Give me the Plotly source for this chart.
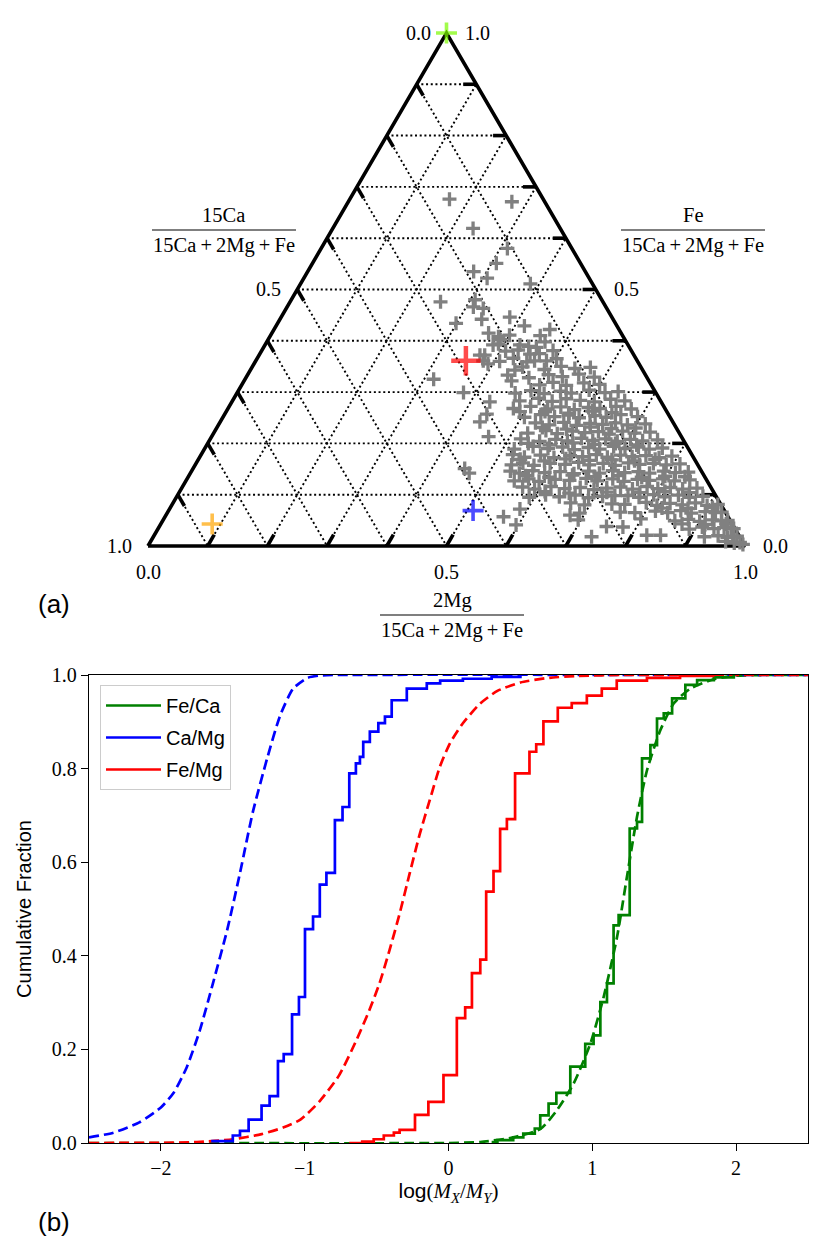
import math

import plotly.graph_objects as go

W, H = 831, 1254
R3 = math.sqrt(3) / 2
SERIF = "Liberation Serif"
SANS = "Liberation Sans"

# (a) sample compositions: 2Mg and Fe fractions of 15Ca+2Mg+Fe (15Ca is the remainder)
MG_FRAC = [
    0.167, 0.274, 0.235, 0.312, 0.308, 0.278, 0.307, 0.385, 0.252, 0.308, 0.312, 0.330,
    0.338, 0.383, 0.299, 0.416, 0.462, 0.452, 0.363, 0.383, 0.400, 0.382, 0.443,
    0.378, 0.390, 0.370, 0.392, 0.381, 0.429, 0.453, 0.457, 0.487, 0.455, 0.316, 0.379,
    0.432, 0.439, 0.435, 0.464, 0.448, 0.466, 0.478, 0.492, 0.455, 0.467, 0.567, 0.596,
    0.587, 0.734, 0.749, 0.677, 0.695, 0.777, 0.825,
    0.409, 0.468, 0.488,
    0.409, 0.429, 0.467, 0.502,
    0.453, 0.492, 0.517, 0.542, 0.567,
    0.436, 0.474, 0.504, 0.529, 0.554, 0.583,
    0.499, 0.519, 0.544, 0.571, 0.599,
    0.490, 0.515, 0.540, 0.560, 0.587, 0.616, 0.637,
    0.481, 0.511, 0.536, 0.557, 0.582, 0.607, 0.632, 0.657,
    0.505, 0.536, 0.556, 0.581, 0.603, 0.623, 0.648, 0.676,
    0.505, 0.530, 0.555, 0.577, 0.597, 0.622, 0.642, 0.664, 0.694,
    0.529, 0.554, 0.576, 0.600, 0.621, 0.643, 0.663, 0.685, 0.714,
    0.526, 0.554, 0.576, 0.599, 0.621, 0.643, 0.663, 0.683, 0.705, 0.730,
    0.520, 0.554, 0.579, 0.600, 0.621, 0.642, 0.662, 0.684, 0.704, 0.726, 0.750,
    0.519, 0.548, 0.575, 0.598, 0.620, 0.642, 0.662, 0.683, 0.704, 0.725, 0.745, 0.766,
    0.522, 0.544, 0.569, 0.594, 0.619, 0.641, 0.662, 0.683, 0.703, 0.724, 0.746, 0.770, 0.790,
    0.530, 0.547, 0.568, 0.593, 0.619, 0.640, 0.660, 0.682, 0.704, 0.724, 0.744, 0.766, 0.789,
    0.811,
    0.534, 0.551, 0.571, 0.593, 0.618, 0.643, 0.665, 0.685, 0.705, 0.727, 0.749, 0.769, 0.791,
    0.812, 0.833,
    0.550, 0.572, 0.592, 0.617, 0.642, 0.668, 0.689, 0.713, 0.734, 0.755, 0.776, 0.797, 0.818,
    0.843,
    0.570, 0.592, 0.617, 0.642, 0.667, 0.692, 0.734, 0.756, 0.778, 0.798, 0.818, 0.840, 0.863,
    0.591, 0.616, 0.641, 0.666, 0.691, 0.755, 0.775, 0.797, 0.817, 0.839, 0.859, 0.881,
    0.666, 0.691, 0.792, 0.813, 0.833, 0.855, 0.875, 0.897, 0.914,
    0.691, 0.816, 0.838, 0.858, 0.878, 0.900, 0.918, 0.928,
    0.799, 0.858, 0.879, 0.900, 0.920, 0.936, 0.946,
    0.890, 0.910, 0.931, 0.947, 0.959, 0.964,
    0.848, 0.923, 0.945, 0.962, 0.970, 0.977,
    0.963, 0.979, 0.988,
    0.995,
    0.534, 0.576, 0.613, 0.647,
    0.545, 0.587, 0.625, 0.662, 0.702,
    0.537, 0.574, 0.611, 0.649, 0.683, 0.720,
    0.539, 0.581, 0.615, 0.656, 0.693, 0.732, 0.765,
    0.564, 0.605, 0.642, 0.681, 0.719, 0.760, 0.798, 0.832,
    0.612, 0.654, 0.716, 0.772, 0.813, 0.855,
    0.712, 0.713, 0.733, 0.736, 0.758, 0.758, 0.783,
    0.824, 0.868, 0.908,
    0.873, 0.912, 0.947,
    0.389, 0.427, 0.466, 0.443,
]
FE_FRAC = [
    0.676, 0.671, 0.619, 0.580, 0.551, 0.535, 0.522, 0.511, 0.476, 0.480, 0.466, 0.463,
    0.442, 0.446, 0.434, 0.429, 0.422, 0.410, 0.415, 0.408, 0.411, 0.392, 0.389,
    0.372, 0.394, 0.372, 0.355, 0.361, 0.382, 0.374, 0.387, 0.361, 0.359, 0.325, 0.299,
    0.281, 0.257, 0.242, 0.213, 0.322, 0.298, 0.268, 0.262, 0.151, 0.142, 0.057, 0.041,
    0.072, 0.018, 0.038, 0.060, 0.051, 0.037, 0.021,
    0.380, 0.375, 0.381,
    0.360, 0.366, 0.361, 0.365,
    0.349, 0.344, 0.350, 0.346, 0.348,
    0.333, 0.328, 0.334, 0.330, 0.335, 0.329,
    0.314, 0.319, 0.313, 0.318, 0.315,
    0.303, 0.297, 0.302, 0.298, 0.304, 0.299, 0.301,
    0.283, 0.288, 0.282, 0.287, 0.284, 0.281, 0.286, 0.283,
    0.272, 0.267, 0.271, 0.266, 0.270, 0.268, 0.272, 0.267,
    0.251, 0.256, 0.252, 0.255, 0.250, 0.254, 0.251, 0.256, 0.252,
    0.240, 0.236, 0.241, 0.235, 0.239, 0.237, 0.240, 0.236, 0.238,
    0.220, 0.225, 0.219, 0.224, 0.221, 0.223, 0.218, 0.224, 0.220, 0.222,
    0.209, 0.204, 0.208, 0.205, 0.210, 0.206, 0.209, 0.204, 0.208, 0.205, 0.207,
    0.189, 0.194, 0.190, 0.193, 0.188, 0.192, 0.189, 0.194, 0.190, 0.193, 0.189, 0.191,
    0.178, 0.173, 0.177, 0.172, 0.176, 0.174, 0.178, 0.173, 0.177, 0.174, 0.176, 0.172, 0.175,
    0.158, 0.162, 0.157, 0.161, 0.159, 0.163, 0.158, 0.161, 0.157, 0.162, 0.159, 0.161, 0.158,
    0.160,
    0.146, 0.142, 0.147, 0.143, 0.145, 0.141, 0.146, 0.142, 0.147, 0.143, 0.145, 0.142, 0.146,
    0.143, 0.144,
    0.127, 0.131, 0.126, 0.130, 0.128, 0.132, 0.127, 0.131, 0.126, 0.130, 0.128, 0.131, 0.127,
    0.129,
    0.115, 0.111, 0.116, 0.112, 0.114, 0.110, 0.115, 0.111, 0.116, 0.112, 0.114, 0.111, 0.113,
    0.095, 0.100, 0.096, 0.099, 0.094, 0.098, 0.095, 0.100, 0.096, 0.099, 0.095, 0.097,
    0.084, 0.080, 0.085, 0.079, 0.083, 0.080, 0.084, 0.079, 0.081,
    0.064, 0.068, 0.065, 0.069, 0.064, 0.067, 0.065, 0.066,
    0.053, 0.049, 0.052, 0.048, 0.051, 0.049, 0.050,
    0.033, 0.037, 0.034, 0.036, 0.035, 0.034,
    0.021, 0.018, 0.020, 0.017, 0.019, 0.019,
    0.009, 0.006, 0.007,
    0.003,
    0.262, 0.259, 0.263, 0.260,
    0.231, 0.228, 0.232, 0.229, 0.230,
    0.200, 0.197, 0.201, 0.198, 0.200, 0.197,
    0.169, 0.166, 0.170, 0.167, 0.168, 0.166, 0.169,
    0.137, 0.134, 0.138, 0.135, 0.137, 0.134, 0.136, 0.135,
    0.106, 0.103, 0.105, 0.104, 0.106, 0.104,
    0.113, 0.097, 0.098, 0.082, 0.081, 0.066, 0.065,
    0.074, 0.073, 0.075,
    0.043, 0.042, 0.043,
    0.402, 0.392, 0.398, 0.343,
]
assert len(MG_FRAC) == len(FE_FRAC)

# highlighted compositions
REF_MG = [0.0, 0.352, 0.510, 0.086]
REF_FE = [1.0, 0.361, 0.069, 0.043]
REF_COLOR = ["#7cfc00", "#ff0000", "#0000ff", "#ffa500"]
REF_SIZE = [15, 21, 15, 15]
REF_WIDTH = [3.6, 4.5, 3.6, 3.6]

GRID_STEPS = [0.1, 0.2, 0.3, 0.4, 0.5, 0.6, 0.7, 0.8, 0.9]
LABEL_STEPS = [0.0, 0.5, 1.0]

# (b) cumulative distributions of log(M_X/M_Y): measured (steps) and fitted (dashed)
FECA_X = [0.30, 0.34, 0.45, 0.52, 0.60, 0.638, 0.696, 0.75, 0.847, 0.951, 1.009, 1.056, 1.102,
          1.148, 1.183, 1.26, 1.311, 1.346, 1.404, 1.45, 1.497, 1.555, 1.647, 1.729, 1.845, 1.984]
FECA_Y = [0.002, 0.006, 0.012, 0.02, 0.031, 0.059, 0.084, 0.107, 0.163, 0.212, 0.23, 0.301, 0.341,
          0.465, 0.487, 0.672, 0.686, 0.822, 0.85, 0.907, 0.918, 0.95, 0.979, 0.989, 0.995, 1.0]
CAMG_X = [-1.65, -1.5, -1.45, -1.39, -1.30, -1.244, -1.186, -1.146, -1.088, -1.04, -0.998, -0.942,
          -0.895, -0.849, -0.79, -0.737, -0.69, -0.644, -0.616, -0.593, -0.547, -0.488, -0.442,
          -0.395, -0.29, -0.151, -0.058, 0.1, 0.3, 0.5]
CAMG_Y = [0.004, 0.016, 0.026, 0.05, 0.08, 0.10, 0.175, 0.19, 0.275, 0.312, 0.457, 0.484, 0.552,
          0.577, 0.69, 0.718, 0.79, 0.811, 0.825, 0.857, 0.879, 0.897, 0.911, 0.946, 0.971, 0.982,
          0.988, 0.992, 0.996, 1.0]
FEMG_X = [-0.69, -0.6, -0.52, -0.45, -0.38, -0.34, -0.233, -0.14, -0.035, 0.058, 0.116, 0.163,
          0.221, 0.262, 0.313, 0.359, 0.406, 0.463, 0.563, 0.61, 0.66, 0.76, 0.857, 0.962, 1.066,
          1.17, 1.38, 1.61, 1.84]
FEMG_Y = [0.0, 0.003, 0.008, 0.016, 0.022, 0.028, 0.06, 0.088, 0.145, 0.267, 0.29, 0.363, 0.392,
          0.537, 0.581, 0.671, 0.692, 0.79, 0.836, 0.852, 0.901, 0.93, 0.94, 0.956, 0.971, 0.988,
          0.994, 0.998, 1.0]

FIT_FECA_X = [-2.5, 0.0, 0.22, 0.45, 0.64, 0.754, 0.87, 0.986, 1.079, 1.172, 1.241, 1.311, 1.381,
              1.473, 1.566, 1.682, 1.845, 1.984, 2.2, 2.5]
FIT_FECA_Y = [0.0, 0.0, 0.002, 0.012, 0.03, 0.07, 0.127, 0.212, 0.312, 0.44, 0.569, 0.697, 0.797,
              0.882, 0.939, 0.971, 0.991, 0.998, 1.0, 1.0]
FIT_CAMG_X = [-2.5, -2.33, -2.15, -2.0, -1.91, -1.82, -1.73, -1.64, -1.54, -1.45, -1.36, -1.26,
              -1.17, -1.08, -0.98, -0.89, -0.8, 2.5]
FIT_CAMG_Y = [0.012, 0.022, 0.044, 0.076, 0.108, 0.162, 0.24, 0.339, 0.454, 0.577, 0.708, 0.823,
              0.914, 0.971, 0.994, 0.999, 1.0, 1.0]
FIT_FEMG_X = [-2.5, -2.0, -1.75, -1.5, -1.3, -1.15, -1.03, -0.9, -0.76, -0.64, -0.55, -0.48, -0.41,
              -0.34, -0.27, -0.2, -0.13, -0.06, 0.01, 0.1, 0.22, 0.34, 0.5, 0.7, 0.9, 1.2, 2.5]
FIT_FEMG_Y = [0.0, 0.0005, 0.002, 0.008, 0.019, 0.033, 0.05, 0.088, 0.145, 0.22, 0.284, 0.341,
              0.412, 0.49, 0.576, 0.66, 0.733, 0.804, 0.854, 0.897, 0.939, 0.966, 0.984, 0.994,
              0.998, 1.0, 1.0]

X_TICKS = [-2, -1, 0, 1, 2]
Y_TICKS = [0.0, 0.2, 0.4, 0.6, 0.8, 1.0]


def tern(mg, fe):
    return [m + f / 2 for m, f in zip(mg, fe)], [f * R3 for f in fe]


def segments(pairs):
    xs, ys = [], []
    for (m0, f0), (m1, f1) in pairs:
        xs += [m0 + f0 / 2, m1 + f1 / 2, None]
        ys += [f0 * R3, f1 * R3, None]
    return xs, ys


def paper(px, py):
    return px / W, 1 - py / H


fig = go.Figure()

# ---- (a) ternary diagram on a hidden cartesian pair
grid = []
for v in GRID_STEPS:
    grid += [((0, v), (1 - v, v)), ((0, 1 - v), (1 - v, 0)), ((v, 0), (v, 1 - v))]
gx, gy = segments(grid)
fig.add_trace(go.Scatter(x=gx, y=gy, mode="lines", xaxis="x2", yaxis="y2", showlegend=False,
                         hoverinfo="skip", line=dict(color="black", width=1.9, dash="2px,2.7px")))

ex, ey = tern([0, 1, 0, 0], [0, 0, 1, 0])
fig.add_trace(go.Scatter(x=ex, y=ey, mode="lines", xaxis="x2", yaxis="y2", showlegend=False,
                         hoverinfo="skip", line=dict(color="black", width=3.6)))

L = 0.022
tx, ty = [], []
for v in GRID_STEPS:
    for (m, f), (dx, dy) in [((0, 1 - v), (0.5 * L, -R3 * L)),
                             ((1 - v, v), (-L, 0)),
                             ((v, 0), (0.5 * L, R3 * L))]:
        x0, y0 = m + f / 2, f * R3
        tx += [x0, x0 + dx, None]
        ty += [y0, y0 + dy, None]
fig.add_trace(go.Scatter(x=tx, y=ty, mode="lines", xaxis="x2", yaxis="y2", showlegend=False,
                         hoverinfo="skip", line=dict(color="black", width=3.6)))

sx, sy = tern(MG_FRAC, FE_FRAC)
fig.add_trace(go.Scatter(x=sx, y=sy, mode="markers", xaxis="x2", yaxis="y2", showlegend=False,
                         marker=dict(symbol="cross-thin", size=10, color="#808080",
                                     line=dict(color="#808080", width=3.3))))
rx, ry = tern(REF_MG, REF_FE)
fig.add_trace(go.Scatter(x=rx, y=ry, mode="markers", xaxis="x2", yaxis="y2", showlegend=False,
                         cliponaxis=False,
                         marker=dict(symbol="cross-thin", size=REF_SIZE, color=REF_COLOR,
                                     line=dict(color=REF_COLOR, width=REF_WIDTH))))

# ---- (b) cumulative fractions
for xs, ys, color, grp in [(FIT_FECA_X, FIT_FECA_Y, "green", "a"),
                           (FIT_CAMG_X, FIT_CAMG_Y, "blue", "b"),
                           (FIT_FEMG_X, FIT_FEMG_Y, "red", "c")]:
    fig.add_trace(go.Scatter(x=xs, y=ys, mode="lines", showlegend=False, legendgroup=grp,
                             line=dict(color=color, width=2.7, dash="10px,5px",
                                       shape="spline", smoothing=0.6)))
for xs, ys, color, name, grp in [(FECA_X, FECA_Y, "green", "Fe/Ca", "a"),
                                  (CAMG_X, CAMG_Y, "blue", "Ca/Mg", "b"),
                                  (FEMG_X, FEMG_Y, "red", "Fe/Mg", "c")]:
    fig.add_trace(go.Scatter(x=xs, y=ys, mode="lines", name=name, legendgroup=grp,
                             line=dict(color=color, width=2.7, shape="hv")))

ann = []
for v in LABEL_STEPS:
    (lx,), (ly,) = tern([0], [1 - v])
    ann.append(dict(x=lx, y=ly, xref="x2", yref="y2", text=f"{v:.1f}", showarrow=False,
                    xanchor="right", yanchor="middle", xshift=-14))
    (qx,), (qy,) = tern([1 - v], [v])
    ann.append(dict(x=qx, y=qy, xref="x2", yref="y2", text=f"{v:.1f}", showarrow=False,
                    xanchor="left", yanchor="middle", xshift=16))
    (bx,), (by,) = tern([v], [0])
    ann.append(dict(x=bx, y=by, xref="x2", yref="y2", text=f"{v:.1f}", showarrow=False,
                    xanchor="center", yanchor="top", yshift=-13))
for a in ann:
    a["font"] = dict(family=SERIF, size=20, color="black")

DEN = "15Ca\u2009+\u20092Mg\u2009+\u2009Fe"
shapes = []
for cx, ytop, num in [(224, 215, "15Ca"), (693, 215, "Fe"), (452, 600, "2Mg")]:
    for text, yy in [(num, ytop), (DEN, ytop + 30)]:
        x0, y0 = paper(cx, yy)
        ann.append(dict(x=x0, y=y0, xref="paper", yref="paper", text=text, showarrow=False,
                        xanchor="center", yanchor="middle",
                        font=dict(family=SERIF, size=20.5, color="black")))
    xa, ya = paper(cx - 72, ytop + 15)
    xb, _ = paper(cx + 72, ytop + 15)
    shapes.append(dict(type="line", xref="paper", yref="paper", x0=xa, x1=xb, y0=ya, y1=ya,
                       line=dict(color="black", width=1.2)))

for lab, yy in [("(a)", 604), ("(b)", 1222)]:
    x0, y0 = paper(54, yy)
    ann.append(dict(x=x0, y=y0, xref="paper", yref="paper", text=lab, showarrow=False,
                    xanchor="center", yanchor="middle",
                    font=dict(family=SANS, size=26, color="black")))

axis_style = dict(showline=True, mirror=True, linecolor="black", linewidth=1.3, ticks="outside",
                  ticklen=7, tickwidth=1.2, tickcolor="black", showgrid=False, zeroline=False,
                  automargin=False, tickfont=dict(family=SERIF, size=20, color="black"))

fig.update_layout(
    width=W, height=H, autosize=False, template="none",
    margin=dict(l=0, r=0, t=0, b=0),
    paper_bgcolor="white", plot_bgcolor="white",
    font=dict(family=SANS, size=20, color="black"),
    xaxis=dict(domain=[89 / W, 808 / W], range=[-2.5, 2.5], tickvals=X_TICKS,
               title=dict(text='<span style="font-family:Liberation Sans">log</span>(<i>M</i>'
                               '<sub><i>X</i></sub>/<i>M</i><sub><i>Y</i></sub>)',
                          font=dict(family=SERIF, size=21), standoff=3),
               **axis_style),
    yaxis=dict(domain=[1 - 1143 / H, 1 - 675 / H], range=[0, 1], tickvals=Y_TICKS,
               tickformat=".1f",
               title=dict(text="Cumulative Fraction", font=dict(family=SANS, size=20),
                          standoff=14),
               **axis_style),
    xaxis2=dict(domain=[0, 1], range=[-148 / 597, 683 / 597], visible=False),
    yaxis2=dict(domain=[1 - 650 / H, 1], range=[-104 / 592.4, 546 / 592.4], visible=False),
    legend=dict(x=100 / W, y=1 - 685 / H, xanchor="left", yanchor="top",
                bgcolor="rgba(255,255,255,0.85)", bordercolor="#cccccc", borderwidth=1,
                font=dict(family=SANS, size=20), tracegroupgap=3, itemwidth=55,
                traceorder="grouped"),
    annotations=ann,
    shapes=shapes,
)

fig.write_html("out.html", config={"displayModeBar": False},
               post_script="document.body.style.margin = '0px';")
